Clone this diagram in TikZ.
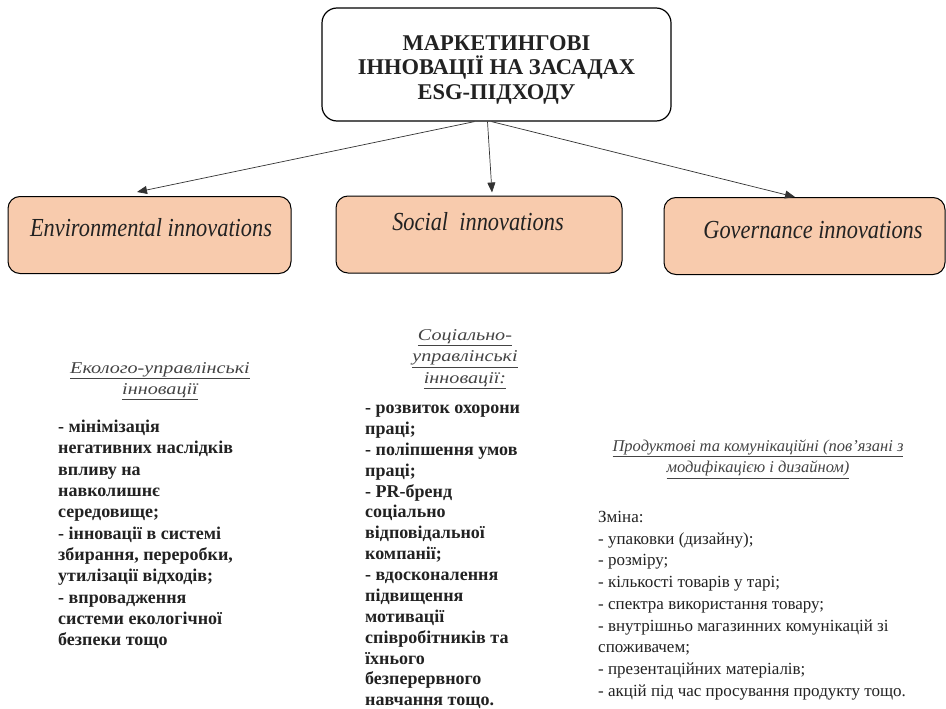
\documentclass[tikz,border=0pt]{standalone}
\usepackage{fontspec}
\usepackage{graphicx}
\setmainfont{Liberation Serif}[BoldFont={Liberation Serif Bold}, ItalicFont={Liberation Serif Italic}]
\usetikzlibrary{arrows.meta}
\definecolor{peach}{HTML}{F8CBAD}
\definecolor{ink}{HTML}{222222}
\definecolor{titlegray}{HTML}{444444}
\definecolor{lineg}{HTML}{333333}
\newcommand{\wideit}[1]{\scalebox{1.22}[1]{#1}}
\newcommand{\narrowit}[1]{\scalebox{0.86}[1]{#1}}
\tikzset{
  topbox/.style={draw=black, line width=1.2pt, rounded corners=15pt, fill=white, minimum width=349pt, minimum height=113pt},
  toplabel/.style={align=center, font=\fontsize{22.5}{24.5}\selectfont\bfseries, text=ink, inner sep=0pt},
  catbox/.style={draw=black, line width=1pt, rounded corners=12pt, fill=peach, minimum height=77pt},
  catlabel/.style={font=\fontsize{26}{28}\selectfont\itshape, text=ink, inner sep=0pt},
  conn/.style={draw=lineg, line width=0.7pt, -{Triangle[length=10pt,width=8pt]}},
  coltitle/.style={font=\fontsize{16.5}{21.5}\selectfont\itshape, text=titlegray, align=center, inner sep=0pt},
  colbody/.style={font=\fontsize{18}{21.3}\selectfont\bfseries, text=ink, align=left, inner sep=0pt, anchor=north west},
  colbodyreg/.style={font=\fontsize{17}{21.75}\selectfont, text=ink, align=left, inner sep=0pt, anchor=north west}
}
\begin{document}
\begin{tikzpicture}[x=1pt,y=-1pt]
\useasboundingbox (0,0) rectangle (946,709);
\fill[white] (0,0) rectangle (946,709);

\node[topbox] (top) at (496.5,64.5) {};
\node[toplabel] (topl) at (496.5,69.5) {МАРКЕТИНГОВІ\\ІННОВАЦІЇ НА ЗАСАДАХ\\ESG-ПІДХОДУ};

\node[catbox, minimum width=283pt] (env) at (149.5,235) {};
\node[catbox, minimum width=286pt] (soc) at (479,234.5) {};
\node[catbox, minimum width=281pt] (gov) at (804.5,236) {};

\node[catlabel] (envl) at (151,228) {\narrowit{Environmental innovations}};
\node[catlabel] (socl) at (478,222) {\narrowit{Social\ \ innovations}};
\node[catlabel] (govl) at (813,230) {\narrowit{Governance innovations}};

\draw[conn] ([xshift=-22pt]top.south) -- ([xshift=-12.5pt,yshift=4pt]env.north);
\draw[conn] ([xshift=-9pt]top.south) -- ([xshift=13pt,yshift=3pt]soc.north);
\draw[conn] ([xshift=-5pt]top.south) -- ([xshift=-9.5pt,yshift=0pt]gov.north);

\node[coltitle] (t1) at (160,381) {\wideit{\underline{Еколого-управлінські}}\\\wideit{\underline{інновації}}};
\node[coltitle] (t2) at (465,359) {\wideit{\underline{Соціально-}}\\\wideit{\underline{управлінські}}\\\wideit{\underline{інновації:}}};
\node[coltitle] (t3) at (758,459) {\underline{Продуктові та комунікаційні (пов'язані з}\\\underline{модифікацією і дизайном)}};

\node[colbody] (b1) at (58,420) {- мінімізація\\негативних наслідків\\впливу на\\навколишнє\\середовище;\\- інновації в системі\\збирання, переробки,\\утилізації відходів;\\- впровадження\\системи екологічної\\безпеки тощо};

\node[colbody, font=\fontsize{18}{20.86}\selectfont\bfseries] (b2) at (365,405) {- розвиток охорони\\праці;\\- поліпшення умов\\праці;\\- PR-бренд\\соціально\\відповідальної\\компанії;\\- вдосконалення\\підвищення\\мотивації\\співробітників та\\їхнього\\безперервного\\навчання тощо.};

\node[colbodyreg] (b3) at (598,511) {Зміна:\\- упаковки (дизайну);\\- розміру;\\- кількості товарів у тарі;\\- спектра використання товару;\\- внутрішньо магазинних комунікацій зі\\споживачем;\\- презентаційних матеріалів;\\- акцій під час просування продукту тощо.};
\end{tikzpicture}
\end{document}
